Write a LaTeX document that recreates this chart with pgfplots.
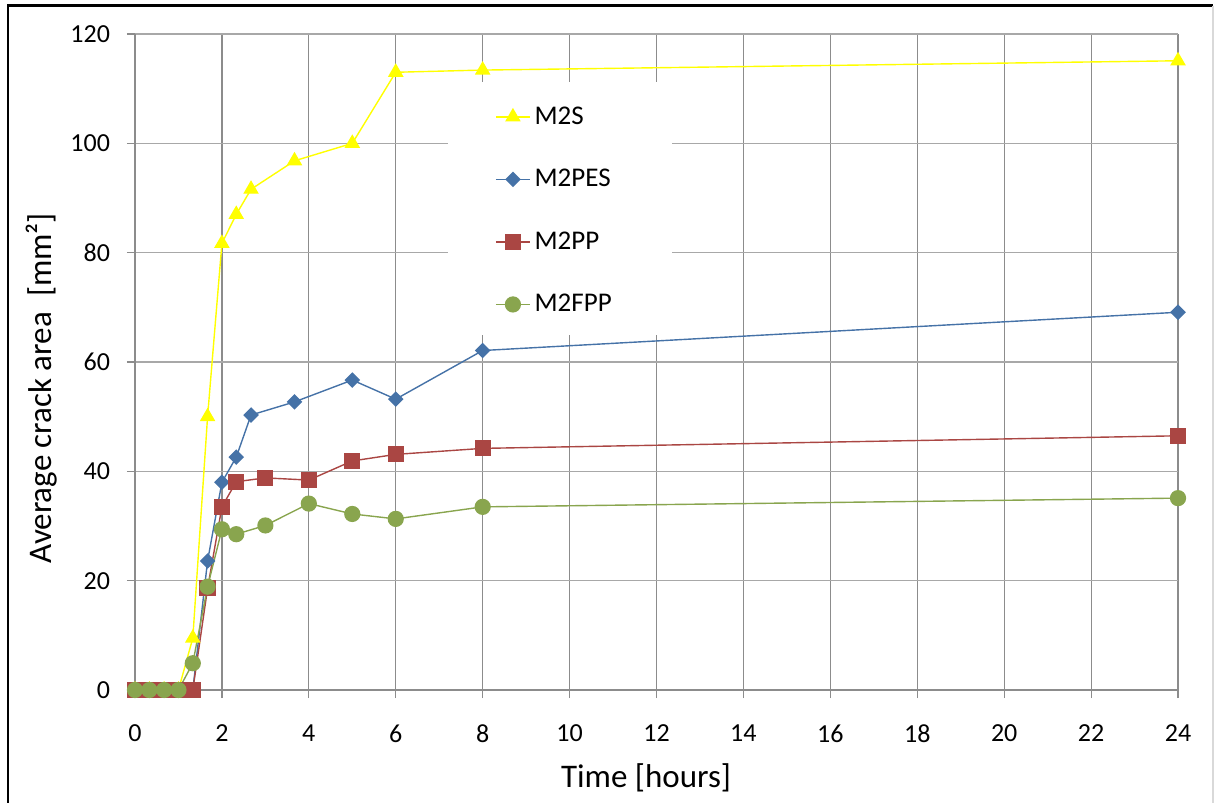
\documentclass[border=0pt]{standalone}
\usepackage{fontspec}
\setmainfont{Carlito}
\usepackage{pgfplots}
\pgfplotsset{compat=1.18}
\definecolor{cS}{HTML}{FFFF00}
\definecolor{cPES}{HTML}{4572A7}
\definecolor{cPP}{HTML}{AA4643}
\definecolor{cFPP}{HTML}{89A54E}
\definecolor{gridv}{HTML}{8C8C8C}
\definecolor{gridh}{HTML}{A8A8A8}
\begin{document}
\begin{tikzpicture}
\useasboundingbox (-67.5pt,-56pt) rectangle (541.5pt,345pt);
\draw[black, line width=1.3pt] (-63.5pt,-70pt) -- (-63.5pt,342.2pt) -- (539pt,342.2pt);
\draw[gray!30, line width=0.6pt] (539pt,342.2pt) -- (539pt,-70pt);
\begin{axis}[
  scale only axis, width=521.5pt, height=328pt,
  xmin=0, xmax=24, ymin=0, ymax=120,
  xtick={0,2,...,24}, ytick={0,20,...,120},
  axis x line*=bottom, axis y line*=left,
  tick align=outside, major tick length=4pt,
  tick style={gridv, line width=0.6pt},
  axis line style={gridv, line width=1.2pt},
  xmajorgrids, ymajorgrids,
  x grid style={gridv, line width=0.6pt},
  y grid style={gridh, line width=0.8pt},
  ticklabel style={font=\fontsize{13}{15}\selectfont},
  xticklabel style={yshift=-10pt},
  yticklabel style={xshift=-5pt},
  /pgf/number format/assume math mode=true,
  clip=false,
  every axis plot/.append style={line width=0.7pt},
  legend image code/.code={\draw[mark repeat=2,mark phase=2] plot coordinates {(0pt,0pt) (8.5pt,0pt) (17pt,0pt)};},
  legend cell align=left,
  legend style={at={(axis description cs:0.345,0.896)}, anchor=north west, draw=none, fill=none,
    font=\fontsize{13.5}{15}\selectfont, row sep=17pt, inner sep=0pt},
]
\fill[white] (axis description cs:0.300,0.927) rectangle (axis description cs:0.5149,0.5412);
\addplot[color=cS, mark=triangle*, mark size=3.8pt, mark options={solid,fill=cS}] coordinates {
(0,0) (0.33,0) (0.67,0) (1,0) (1.33,9.5) (1.67,50) (2,81.7) (2.33,87) (2.67,91.6) (3.67,96.8) (5,100) (6,113) (8,113.4) (24,115.1)};
\addlegendentry{M2S}
\addplot[color=cPES, mark=square*, mark size=2.4pt, mark options={solid,fill=cPES,rotate=45}] coordinates {
(0,0) (0.33,0) (0.67,0) (1,0) (1.33,0) (1.67,23.6) (2,38.0) (2.33,42.6) (2.67,50.3) (3.67,52.7) (5,56.7) (6,53.2) (8,62.1) (24,69.1)};
\addlegendentry{M2PES}
\addplot[color=cPP, mark=square*, mark size=3.7pt, mark options={solid,fill=cPP}] coordinates {
(0,0) (0.33,0) (0.67,0) (1,0) (1.33,0) (1.67,18.6) (2,33.5) (2.33,38.1) (3,38.8) (4,38.4) (5,41.9) (6,43.1) (8,44.2) (24,46.5)};
\addlegendentry{M2PP}
\addplot[color=cFPP, mark=*, mark size=3.7pt, mark options={solid,fill=cFPP}] coordinates {
(0,0) (0.33,0) (0.67,0) (1,0) (1.33,4.9) (1.67,18.9) (2,29.4) (2.33,28.5) (3,30.1) (4,34.1) (5,32.2) (6,31.3) (8,33.5) (24,35.1)};
\addlegendentry{M2FPP}
\node[rotate=90, font=\fontsize{16.5}{20}\selectfont] at ([xshift=-46.5pt]axis description cs:0,0.46) {Average crack area~ [mm²]};
\node[font=\fontsize{16.5}{20}\selectfont] at ([yshift=-44pt]axis description cs:0.49,0) {Time [hours]};
\end{axis}
\end{tikzpicture}
\end{document}
